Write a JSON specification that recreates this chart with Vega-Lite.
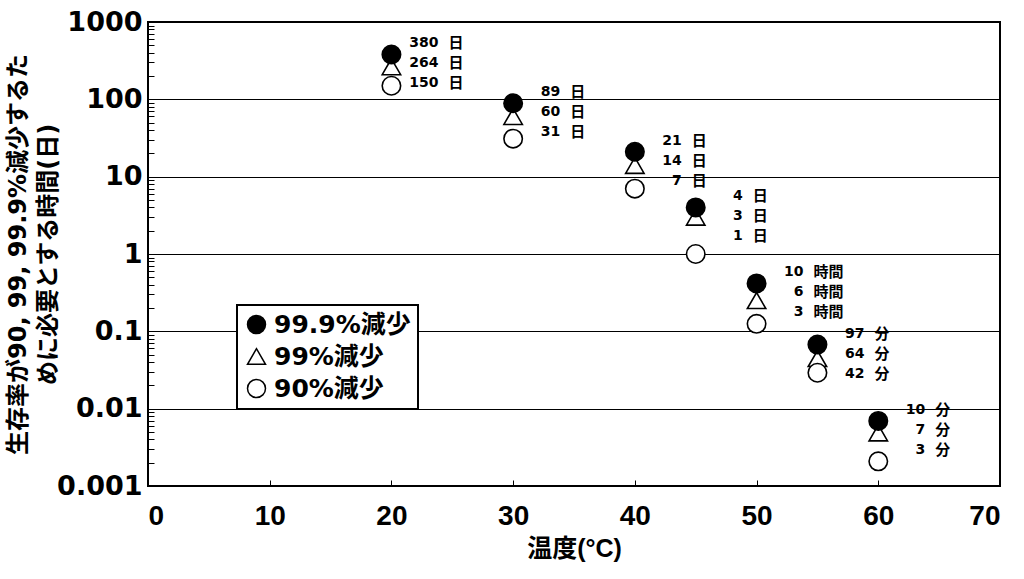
{
  "$schema": "https://vega.github.io/schema/vega-lite/v6.json",
  "width": 852,
  "height": 464,
  "autosize": {"type": "none"},
  "padding": {"left": 148, "top": 22, "right": 24, "bottom": 93},
  "background": "white",
  "config": {
    "view": {"stroke": "black", "strokeWidth": 2},
    "axis": {"domain": false, "labelColor": "black", "titleColor": "black", "tickColor": "black", "ticks": true, "tickWidth": 1},
    "legend": {"strokeColor": "black", "strokeWidth": 2, "fillColor": "white"}
  },
  "data": {
    "values": [
      {"temp": 20, "series": "99%減少", "days": 264, "num": "264", "unit": "日"},
      {"temp": 20, "series": "90%減少", "days": 150, "num": "150", "unit": "日"},
      {"temp": 20, "series": "99.9%減少", "days": 380, "num": "380", "unit": "日"},
      {"temp": 30, "series": "99%減少", "days": 60, "num": "60", "unit": "日"},
      {"temp": 30, "series": "90%減少", "days": 31, "num": "31", "unit": "日"},
      {"temp": 30, "series": "99.9%減少", "days": 89, "num": "89", "unit": "日"},
      {"temp": 40, "series": "99%減少", "days": 14, "num": "14", "unit": "日"},
      {"temp": 40, "series": "90%減少", "days": 7, "num": "7", "unit": "日"},
      {"temp": 40, "series": "99.9%減少", "days": 21, "num": "21", "unit": "日"},
      {"temp": 45, "series": "99%減少", "days": 3, "num": "3", "unit": "日"},
      {"temp": 45, "series": "90%減少", "days": 1, "num": "1", "unit": "日"},
      {"temp": 45, "series": "99.9%減少", "days": 4, "num": "4", "unit": "日"},
      {"temp": 50, "series": "99%減少", "days": 0.25, "num": "6", "unit": "時間"},
      {"temp": 50, "series": "90%減少", "days": 0.125, "num": "3", "unit": "時間"},
      {"temp": 50, "series": "99.9%減少", "days": 0.4167, "num": "10", "unit": "時間"},
      {"temp": 55, "series": "99%減少", "days": 0.04444, "num": "64", "unit": "分"},
      {"temp": 55, "series": "90%減少", "days": 0.02917, "num": "42", "unit": "分"},
      {"temp": 55, "series": "99.9%減少", "days": 0.06736, "num": "97", "unit": "分"},
      {"temp": 60, "series": "99%減少", "days": 0.004861, "num": "7", "unit": "分"},
      {"temp": 60, "series": "90%減少", "days": 0.002083, "num": "3", "unit": "分"},
      {"temp": 60, "series": "99.9%減少", "days": 0.006944, "num": "10", "unit": "分"}
    ]
  },
  "transform": [
    {"joinaggregate": [{"op": "max", "field": "days", "as": "top"}], "groupby": ["temp"]}
  ],
  "layer": [
    {
      "mark": {"type": "point", "filled": false, "stroke": "black", "strokeWidth": 1.6, "size": 340, "opacity": 1},
      "encoding": {
        "x": {
          "field": "temp", "type": "quantitative",
          "scale": {"domain": [0, 70], "nice": false, "zero": false},
          "axis": {
            "values": [0, 10, 20, 30, 40, 50, 60, 70],
            "grid": false,
            "offset": -6,
            "tickSize": 6,
            "labelPadding": 16,
            "labelFont": "Liberation Sans",
            "labelFontSize": 28,
            "labelFontWeight": "bold",
            "title": "温度(°C)",
            "titleFont": "Liberation Sans, Noto Sans CJK JP",
            "titleFontSize": 25,
            "titleFontWeight": "bold",
            "titlePadding": 6
          }
        },
        "y": {
          "field": "days", "type": "quantitative",
          "scale": {"type": "log", "domain": [0.001, 1000], "nice": false},
          "axis": {
            "values": [0.001, 0.002, 0.003, 0.004, 0.005, 0.006, 0.007, 0.008, 0.009,
                       0.01, 0.02, 0.03, 0.04, 0.05, 0.06, 0.07, 0.08, 0.09,
                       0.1, 0.2, 0.3, 0.4, 0.5, 0.6, 0.7, 0.8, 0.9,
                       1, 2, 3, 4, 5, 6, 7, 8, 9,
                       10, 20, 30, 40, 50, 60, 70, 80, 90,
                       100, 200, 300, 400, 500, 600, 700, 800, 900, 1000],
            "labelExpr": "abs(log(datum.value) / LN10 - round(log(datum.value) / LN10)) < 0.000001 ? '' + datum.value : ''",
            "grid": true,
            "gridColor": "black",
            "gridWidth": 1,
            "gridOpacity": {"condition": {"test": "abs(log(datum.value) / LN10 - round(log(datum.value) / LN10)) < 0.000001", "value": 1}, "value": 0},
            "offset": -6,
            "tickSize": 6,
            "labelPadding": 6,
            "labelFont": "DejaVu Sans",
            "labelFontSize": 27,
            "labelFontWeight": "bold",
            "title": ["生存率が90, 99, 99.9%減少するた", "めに必要とする時間(日)"],
            "titleFont": "DejaVu Sans, Noto Sans CJK JP",
            "titleFontSize": 24,
            "titleFontWeight": "bold",
            "titleLineHeight": 30,
            "titleX": -136,
            "titleY": 232,
            "titleBaseline": "middle",
            "titleAlign": "center"
          }
        },
        "shape": {
          "field": "series", "type": "nominal",
          "scale": {"domain": ["99.9%減少", "99%減少", "90%減少"], "range": ["circle", "triangle-up", "circle"]},
          "legend": {
            "title": null,
            "orient": "none",
            "legendX": 89,
            "legendY": 283,
            "padding": 7,
            "rowPadding": 6,
            "labelFont": "DejaVu Sans, Noto Sans CJK JP",
            "labelFontSize": 25,
            "labelFontWeight": "bold",
            "labelColor": "black",
            "labelOffset": 5,
            "symbolSize": 324,
            "encode": {
              "symbols": {
                "update": {
                  "fill": {"scale": "fill", "field": "value"},
                  "stroke": {"value": "black"},
                  "strokeWidth": {"value": 1.6},
                  "opacity": {"value": 1}
                }
              }
            }
          }
        },
        "fill": {
          "field": "series", "type": "nominal",
          "scale": {"domain": ["99.9%減少", "99%減少", "90%減少"], "range": ["black", "white", "white"]},
          "legend": null
        }
      }
    },
    {
      "transform": [{"filter": "datum.series === '99.9%減少'"}],
      "layer": [
        {"mark": {"type": "text", "align": "right", "baseline": "middle", "dx": 47, "dy": -11, "font": "DejaVu Sans", "fontSize": 14, "fontWeight": "bold", "color": "black"},
         "encoding": {"x": {"field": "temp", "type": "quantitative"}, "y": {"field": "top", "type": "quantitative"}, "text": {"field": "num"}}},
        {"mark": {"type": "text", "align": "left", "baseline": "middle", "dx": 57, "dy": -11, "font": "Noto Sans CJK JP", "fontSize": 15, "fontWeight": "bold", "color": "black"},
         "encoding": {"x": {"field": "temp", "type": "quantitative"}, "y": {"field": "top", "type": "quantitative"}, "text": {"field": "unit"}}}
      ]
    },
    {
      "transform": [{"filter": "datum.series === '99%減少'"}],
      "layer": [
        {"mark": {"type": "text", "align": "right", "baseline": "middle", "dx": 47, "dy": 9, "font": "DejaVu Sans", "fontSize": 14, "fontWeight": "bold", "color": "black"},
         "encoding": {"x": {"field": "temp", "type": "quantitative"}, "y": {"field": "top", "type": "quantitative"}, "text": {"field": "num"}}},
        {"mark": {"type": "text", "align": "left", "baseline": "middle", "dx": 57, "dy": 9, "font": "Noto Sans CJK JP", "fontSize": 15, "fontWeight": "bold", "color": "black"},
         "encoding": {"x": {"field": "temp", "type": "quantitative"}, "y": {"field": "top", "type": "quantitative"}, "text": {"field": "unit"}}}
      ]
    },
    {
      "transform": [{"filter": "datum.series === '90%減少'"}],
      "layer": [
        {"mark": {"type": "text", "align": "right", "baseline": "middle", "dx": 47, "dy": 29, "font": "DejaVu Sans", "fontSize": 14, "fontWeight": "bold", "color": "black"},
         "encoding": {"x": {"field": "temp", "type": "quantitative"}, "y": {"field": "top", "type": "quantitative"}, "text": {"field": "num"}}},
        {"mark": {"type": "text", "align": "left", "baseline": "middle", "dx": 57, "dy": 29, "font": "Noto Sans CJK JP", "fontSize": 15, "fontWeight": "bold", "color": "black"},
         "encoding": {"x": {"field": "temp", "type": "quantitative"}, "y": {"field": "top", "type": "quantitative"}, "text": {"field": "unit"}}}
      ]
    }
  ]
}
